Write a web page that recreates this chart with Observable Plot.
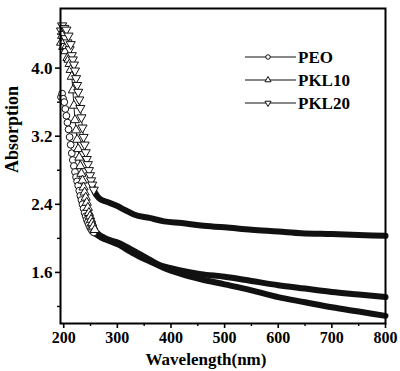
<!DOCTYPE html>
<html><head><meta charset="utf-8">
<script src="https://cdn.jsdelivr.net/npm/d3@7"></script>
<script src="https://cdn.jsdelivr.net/npm/@observablehq/plot@0.6"></script>
<style>
body{margin:0;background:#fff;}
#chart{position:relative;width:400px;height:371px;}
svg{font-family:"Liberation Serif","Times New Roman",serif;}
</style></head>
<body><div id="chart"></div>
<script>
const seriesNames = ["PEO", "PKL10", "PKL20"];

const peoX = [195,197,199,201,203,205,207,209,211,213,215,217,219,221,223,225,227,229,231,233,235,237,239,241,243,245,247,249,251,253,256,260,270,285,301,320,340,360,381,400,420,456,500,550,600,650,700,750,800];
const peoY = [3.66,3.70,3.64,3.60,3.52,3.44,3.36,3.28,3.19,3.10,3.00,2.92,2.85,2.78,2.72,2.67,2.62,2.56,2.50,2.45,2.40,2.35,2.30,2.26,2.22,2.19,2.16,2.13,2.11,2.09,2.07,2.05,2.01,1.97,1.93,1.86,1.79,1.73,1.67,1.62,1.58,1.52,1.46,1.39,1.31,1.25,1.19,1.14,1.09];

const pkl10X = [195,197,199,201,203,205,207,209,211,213,215,217,219,221,223,225,227,229,231,233,235,237,239,241,243,245,247,249,251,253,255,258,265,275,290,301,320,340,360,381,400,420,456,500,550,600,650,700,750,800];
const pkl10Y = [4.30,4.38,4.25,4.32,4.20,4.26,4.12,4.10,4.05,3.98,3.90,3.74,3.56,3.39,3.27,3.16,3.05,2.95,2.85,2.76,2.68,2.60,2.54,2.48,2.42,2.36,2.30,2.26,2.22,2.18,2.14,2.10,2.05,2.01,1.97,1.95,1.89,1.82,1.75,1.68,1.65,1.62,1.58,1.55,1.50,1.45,1.41,1.37,1.34,1.31];

const pkl20X = [195,197,199,201,203,205,207,209,211,213,215,217,219,221,223,225,227,229,231,233,235,237,239,241,243,245,247,249,251,253,256,259,262,268,280,300,315,331,360,387,420,456,500,550,600,643,700,750,800];
const pkl20Y = [4.44,4.50,4.40,4.47,4.35,4.45,4.30,4.38,4.22,4.28,4.15,4.10,4.04,3.97,3.88,3.80,3.72,3.63,3.53,3.42,3.30,3.19,3.10,3.01,2.93,2.87,2.80,2.74,2.68,2.63,2.57,2.53,2.50,2.46,2.43,2.38,2.33,2.28,2.24,2.20,2.18,2.15,2.13,2.10,2.08,2.06,2.05,2.04,2.03];

const xTicks = [200,300,400,500,600,700,800];
const xMinor = [250,350,450,550,650,750];
const yTicks = [1.6,2.4,3.2,4.0];
const yMinor = [1.2,2.0,2.8,3.6,4.4];
const xLabel = "Wavelength(nm)";
const yLabel = "Absorption";

const toRows = (name, xs, ys) => xs.map((x,i)=>({series:name, x, y:ys[i]}));
const peo = toRows("PEO", peoX, peoY);
const pkl10 = toRows("PKL10", pkl10X, pkl10Y);
const pkl20 = toRows("PKL20", pkl20X, pkl20Y);

const downTri = {
  draw(ctx, size){
    const y = -Math.sqrt(size/(Math.sqrt(3)*3));
    const s = Math.sqrt(3);
    ctx.moveTo(0, -y*2);
    ctx.lineTo(-s*y, y);
    ctx.lineTo(s*y, y);
    ctx.closePath();
  }
};
const symbols = {PEO: "circle", PKL10: "triangle", PKL20: downTri};
const serif = '"Liberation Serif","Times New Roman",serif';

const plot = Plot.plot({
  width: 400, height: 371,
  marginLeft: 60, marginRight: 15, marginTop: 8, marginBottom: 48,
  style: {fontFamily: serif, fontWeight:"bold", fontSize:"17px", color:"#000", background:"#fff"},
  x: {domain:[194, 800]},
  y: {domain:[1.0, 4.7]},
  marks: [
    Plot.axisX({ticks: xTicks, tickSize: 5, tickPadding: 3, tickFormat: d=>String(d), label: null, strokeWidth: 1.6, fontSize: 16, fontWeight: "bold"}),
    Plot.axisX({ticks: xMinor, tickSize: 3, tickFormat: ()=>"", label: null, strokeWidth: 1.4}),
    Plot.axisY({ticks: yTicks, tickSize: 5, tickPadding: 3, tickFormat: d=>d.toFixed(1), label: null, strokeWidth: 1.6, fontSize: 17, fontWeight: "bold"}),
    Plot.axisY({ticks: yMinor, tickSize: 3, tickFormat: ()=>"", label: null, strokeWidth: 1.4}),
    ...[peo, pkl10, pkl20].map(rows => Plot.line(rows, {x:"x", y:"y", stroke:"#111", strokeWidth:1, curve:"monotone-x"})),
    ...[peo, pkl10, pkl20].map(rows => Plot.line(rows.filter(d=>d.x>=251), {x:"x", y:"y", stroke:"#111", strokeWidth:6, curve:"monotone-x"})),
    ...[peo, pkl10, pkl20].map(rows => Plot.dot(rows.filter(d=>d.x<=258), {x:"x", y:"y", r:3.4, symbol: symbols[rows[0].series], fill:"white", stroke:"#111", strokeWidth:1})),
    Plot.frame({stroke:"#000", strokeWidth:2}),
    Plot.text([xLabel], {text:d=>d, frameAnchor:"bottom", lineAnchor:"middle", dx:-17, dy:36, fontSize:17, fontWeight:"bold", fill:"#000"}),
    Plot.text([yLabel], {text:d=>d, frameAnchor:"left", lineAnchor:"middle", dx:-48, dy:7, rotate:-90, fontSize:18, fontWeight:"bold", fill:"#000"})
  ]
});

document.getElementById("chart").appendChild(plot);

// Legend inside plot area
const svg = d3.select(plot);
const lg = svg.append("g").attr("class","legend").attr("text-anchor","start");
const legendRows = seriesNames.map((name,i)=>({name, y: 57 + i*23}));
legendRows.forEach(r=>{
  lg.append("line").attr("x1",245).attr("x2",296).attr("y1",r.y).attr("y2",r.y).attr("stroke","#111").attr("stroke-width",1);
  const sym = symbols[r.name];
  const symType = sym === "circle" ? d3.symbolCircle : sym === "triangle" ? d3.symbolTriangle : sym;
  lg.append("path").attr("d", d3.symbol(symType, 16)()).attr("transform",`translate(268,${r.y})`).attr("fill","white").attr("stroke","#111").attr("stroke-width",1);
  lg.append("text").attr("x",298).attr("y",r.y).attr("dy","0.35em").attr("text-anchor","start").attr("font-size",17).attr("font-weight","bold").attr("font-family",serif).attr("fill","#000").text(r.name);
});
</script>
</body></html>
